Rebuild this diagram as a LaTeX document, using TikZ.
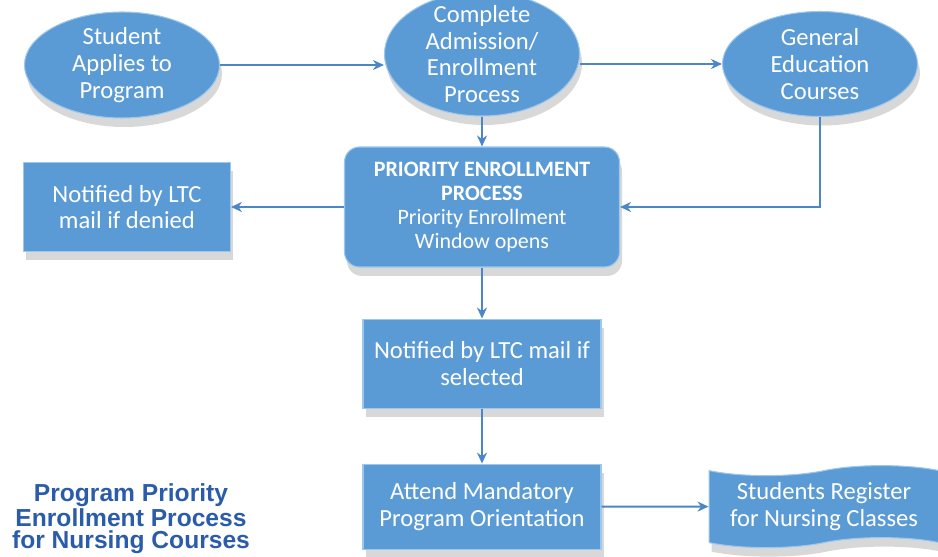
\documentclass[tikz,border=0pt]{standalone}
\usepackage{fontspec}
\setmainfont{Carlito}
\newfontfamily\titlefont{Liberation Sans}
\usepackage{xcolor}
\definecolor{fillb}{HTML}{5B9BD5}
\definecolor{edgeb}{HTML}{9DC8EC}
\definecolor{arrb}{HTML}{4A86C8}
\definecolor{ttl}{HTML}{2A5CAA}
\usetikzlibrary{arrows.meta,positioning,shapes.geometric,shapes.symbols,shadows}
\tikzset{
  >={Stealth[length=2.2mm,width=2mm]},
  shp/.style={fill=fillb,draw=edgeb,line width=0.6pt,text=white,align=center,
    font=\fontsize{14}{15.2}\selectfont,
    drop shadow={shadow xshift=0.5mm,shadow yshift=-1.8mm,opacity=0.22,fill=black!70}},
  ell/.style={shp,ellipse,inner sep=0pt,minimum width=39mm},
  txt/.style={text=white,align=center,font=\fontsize{14}{15.2}\selectfont},
  box/.style={shp,rectangle,inner sep=1pt},
  wav/.style={shp,tape,tape bend top=in and out,tape bend bottom=in and out,tape bend height=2mm,inner sep=1pt},
  arr/.style={->,draw=arrb,line width=1.1pt},
}
\begin{document}
\begin{tikzpicture}[x=0.2mm,y=-0.2mm]
\useasboundingbox (0,0) rectangle (938,557);
% top row
\node[ell,minimum height=21.2mm,label={[txt]center:Student\\Applies to\\Program}] (apply) at (122,65) {};
\node[ell,minimum height=24.8mm,label={[txt]center:Complete\\Admission/\\Enrollment\\Process}] (enroll) at (482,54) {};
\node[ell,minimum height=21mm,label={[txt]center:General\\Education\\Courses}] (general) at (820,64) {};
% middle
\node[box,rounded corners=3mm,minimum width=55mm,minimum height=24mm,font=\fontsize{12.5}{13.5}\selectfont] (prio) at (482,207)
  {\textbf{PRIORITY ENROLLMENT}\\\textbf{PROCESS}\\Priority Enrollment\\Window opens};
\node[box,minimum width=41.4mm,minimum height=17.8mm,left=22.6mm of prio] (denied) {Notified by LTC\\mail if denied};
\node[box,minimum width=47.6mm,minimum height=17.8mm,below=10.2mm of prio] (selected) {Notified by LTC mail if\\selected};
\node[box,minimum width=47.6mm,minimum height=17mm,below=11mm of selected] (attend) {Attend Mandatory\\Program Orientation};
\node[wav,minimum width=46mm,minimum height=16.4mm,right=21.4mm of attend] (register) {Students Register\\for Nursing Classes};
\node[text=ttl,align=center,font=\titlefont\bfseries\fontsize{14}{12.5}\selectfont] (title) at (131,519)
  {Program Priority\\Enrollment Process\\for Nursing Courses};
% connectors
\draw[arr] (apply.east) -- (apply.east -| enroll.west);
\draw[arr] (general.west -| enroll.east) -- (general.west);
\draw[arr] (enroll.south) -- (prio.north);
\draw[arr] (prio) -- (denied);
\draw[arr] (general.south) |- (prio.east);
\draw[arr] (prio) -- (selected);
\draw[arr] (selected) -- (attend);
\draw[arr] (attend) -- (register);
\end{tikzpicture}
\end{document}
